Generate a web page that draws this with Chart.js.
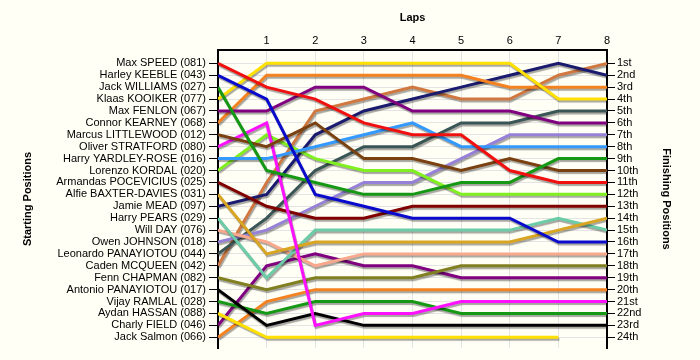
<!DOCTYPE html>
<html><head><meta charset="utf-8">
<script src="https://cdn.jsdelivr.net/npm/chart.js@4/dist/chart.umd.min.js"></script>
<style>html,body{margin:0;padding:0;background:#FFFFF5;}</style>
</head><body>
<canvas id="c" width="700" height="360"></canvas>
<script>
// ---- data ----
const laps = [0, 1, 2, 3, 4, 5, 6, 7, 8];
const lapLabels = ['', '1', '2', '3', '4', '5', '6', '7', '8'];
const positions = [1,2,3,4,5,6,7,8,9,10,11,12,13,14,15,16,17,18,19,20,21,22,23,24];
const drivers = [
  'Max SPEED (081)', 'Harley KEEBLE (043)', 'Jack WILLIAMS (027)', 'Klaas KOOIKER (077)',
  'Max FENLON (067)', 'Connor KEARNEY (068)', 'Marcus LITTLEWOOD (012)', 'Oliver STRATFORD (080)',
  'Harry YARDLEY-ROSE (016)', 'Lorenzo KORDAL (020)', 'Armandas POCEVICIUS (025)', 'Alfie BAXTER-DAVIES (031)',
  'Jamie MEAD (097)', 'Harry PEARS (029)', 'Will DAY (076)', 'Owen JOHNSON (018)',
  'Leonardo PANAYIOTOU (044)', 'Caden MCQUEEN (042)', 'Fenn CHAPMAN (082)', 'Antonio PANAYIOTOU (017)',
  'Vijay RAMLAL (028)', 'Aydan HASSAN (088)', 'Charly FIELD (046)', 'Jack Salmon (066)'
];
const finishLabels = ['1st','2nd','3rd','4th','5th','6th','7th','8th','9th','10th','11th','12th',
  '13th','14th','15th','16th','17th','18th','19th','20th','21st','22nd','23rd','24th'];

// position after each lap (lap 0 = start)
const maxSpeed       = [1, 3, 4, 6, 7, 7, 10, 11, 11];
const harleyKeeble   = [2, 4, 12, 13, 14, 14, 14, 16, 16];
const jackWilliams   = [3, 10, 11, 12, 12, 11, 11, 9, 9];
const klaasKooiker   = [4, 1, 1, 1, 1, 1, 1, 4, 4];
const maxFenlon      = [5, 5, 3, 3, 5, 5, 5, 6, 6];
const connorKearney  = [6, 2, 2, 2, 2, 2, 3, 3, 3];
const marcusLittlewood = [7, 8, 6, 9, 9, 10, 9, 10, 10];
const oliverStratford  = [8, 6, 23, 22, 22, 21, 21, 21, 21];
const harryYardleyRose = [9, 9, 8, 7, 6, 8, 8, 8, 8];
const lorenzoKordal  = [10, 7, 9, 10, 10, 12, 12, 12, 12];
const armandasPocevicius = [11, 13, 14, 14, 13, 13, 13, 13, 13];
const alfieBaxterDavies  = [12, 17, 16, 16, 16, 16, 16, 15, 14];
const jamieMead      = [13, 12, 7, 5, 4, 3, 2, 1, 2];
const harryPears     = [14, 19, 15, 15, 15, 15, 15, 14, 15];
const willDay        = [15, 16, 18, 17, 17, 17, 17, 17, 17];
const owenJohnson    = [16, 15, 13, 11, 11, 9, 7, 7, 7];
const leonardoPanayiotou = [17, 14, 10, 8, 8, 6, 6, 5, 5];
const cadenMcqueen   = [18, 11, 5, 4, 3, 4, 4, 2, 1];
const fennChapman    = [19, 20, 19, 19, 19, 18, 18, 18, 18];
const antonioPanayiotou = [20, 23, 22, 23, 23, 23, 23, 23, 23];
const vijayRamlal    = [21, 22, 21, 21, 21, 22, 22, 22, 22];
const aydanHassan    = [22, 24, 24, 24, 24, 24, 24, 24];
const charlyField    = [23, 18, 17, 18, 18, 19, 19, 19, 19];
const jackSalmon     = [24, 21, 20, 20, 20, 20, 20, 20, 20];

const series = [maxSpeed, harleyKeeble, jackWilliams, klaasKooiker, maxFenlon, connorKearney,
  marcusLittlewood, oliverStratford, harryYardleyRose, lorenzoKordal, armandasPocevicius, alfieBaxterDavies,
  jamieMead, harryPears, willDay, owenJohnson, leonardoPanayiotou, cadenMcqueen, fennChapman,
  antonioPanayiotou, vijayRamlal, aydanHassan, charlyField, jackSalmon];

// ---- styles ----
const colors = ['#F01010', '#0A0ACC', '#159915', '#FFE000', '#800080', '#F58220',
  '#7A4010', '#FF10FF', '#3399FF', '#80F020', '#800000', '#DAA520',
  '#1A1A6E', '#6CCCA8', '#F8A88C', '#9680D8', '#3A5555', '#D07840', '#808020',
  '#000000', '#159915', '#FFE000', '#800080', '#F58220'];

const datasets = series.map((s, i) => ({
  label: drivers[i],
  data: s.map((v, j) => ({ x: laps[j], y: v })),
  borderColor: colors[i],
  backgroundColor: colors[i],
  borderWidth: 3,
  pointRadius: 0,
  tension: 0,
  fill: false
}));

const tickFont = { family: '"Liberation Sans", Arial, sans-serif', size: 11 };
const titleFont = { family: '"Liberation Sans", Arial, sans-serif', size: 11, weight: 'bold' };
const gridColor = '#E4E4E4';

const bg = {
  id: 'bg',
  beforeDraw(chart) {
    const c = chart.ctx;
    c.save();
    c.fillStyle = '#FFFFF5';
    c.fillRect(0, 0, chart.width, chart.height);
    c.restore();
  }
};
const shadow = {
  id: 'shadow',
  beforeDatasetsDraw(chart) {
    const c = chart.ctx;
    c.save();
    c.shadowColor = 'rgba(0,0,0,0.35)';
    c.shadowOffsetX = 1;
    c.shadowOffsetY = 2;
    c.shadowBlur = 1;
  },
  afterDatasetsDraw(chart) { chart.ctx.restore(); }
};

const posTicks = s => { s.ticks = positions.map(v => ({ value: v })); };

new Chart(document.getElementById('c'), {
  type: 'line',
  data: { datasets },
  options: {
    responsive: false,
    animation: false,
    layout: { padding: { left: 0, right: 0, top: 0, bottom: 12 } },
    plugins: { legend: { display: false }, tooltip: { enabled: false } },
    scales: {
      x: {
        type: 'linear', position: 'top', min: 0, max: 8,
        afterBuildTicks: s => { s.ticks = laps.map(v => ({ value: v })); },
        afterFit: s => { s.height = 50; },
        ticks: { callback: v => lapLabels[v], font: tickFont, color: '#000', padding: 2, autoSkip: false, maxRotation: 0 },
        grid: { color: gridColor, drawTicks: false },
        border: { color: '#000', width: 2 },
        title: { display: true, text: 'Laps', font: titleFont, color: '#000', padding: { top: 11, bottom: 0 } }
      },
      y: {
        type: 'linear', position: 'left', reverse: true, min: -0.12, max: 24.9,
        afterBuildTicks: posTicks,
        afterFit: s => { s.width = 218; },
        ticks: { callback: v => drivers[v - 1], font: tickFont, color: '#000', padding: 3, autoSkip: false },
        grid: { color: gridColor, tickColor: '#000', tickLength: 9 },
        border: { color: '#000', width: 2 },
        title: { display: true, text: 'Starting Positions', font: titleFont, color: '#000', padding: { top: 21, bottom: 0 } }
      },
      y2: {
        type: 'linear', position: 'right', reverse: true, min: -0.12, max: 24.9,
        afterBuildTicks: posTicks,
        afterFit: s => { s.width = 93; },
        ticks: { callback: v => finishLabels[v - 1], font: tickFont, color: '#000', padding: 2, autoSkip: false },
        grid: { drawOnChartArea: false, tickColor: '#000', tickLength: 8 },
        border: { color: '#000', width: 2 },
        title: { display: true, text: 'Finishing Positions', font: titleFont, color: '#000', padding: { top: 27, bottom: 0 } }
      }
    }
  },
  plugins: [bg, shadow]
});
</script>
</body></html>
